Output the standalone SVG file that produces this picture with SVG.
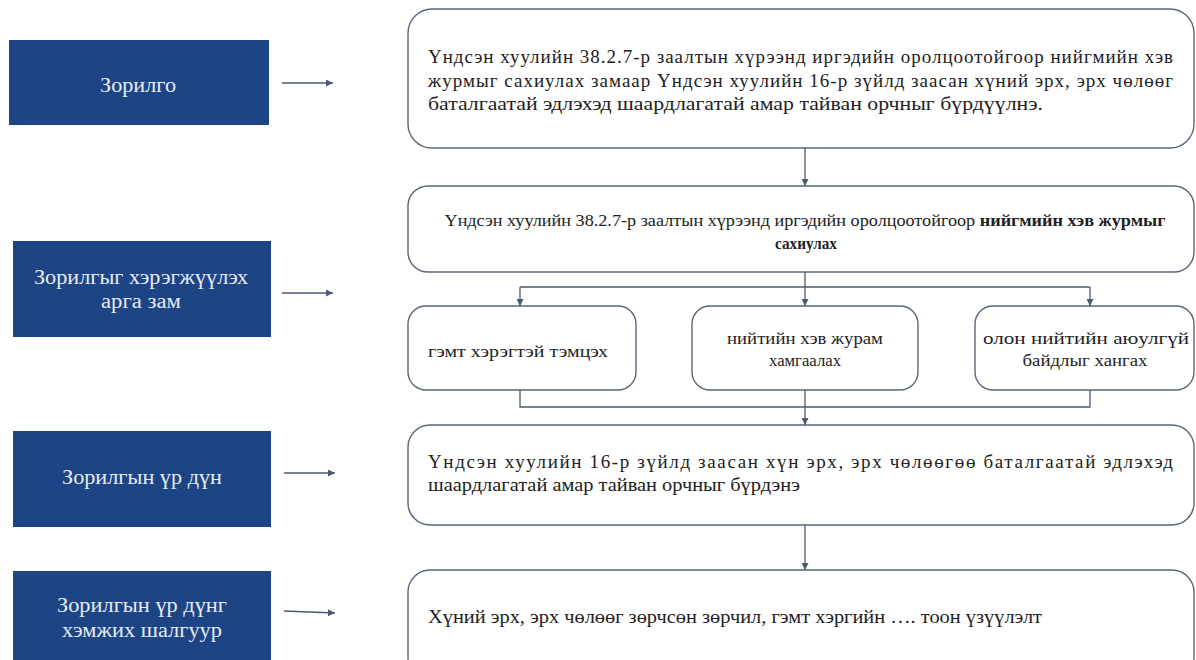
<svg xmlns="http://www.w3.org/2000/svg" width="1196" height="660" viewBox="0 0 1196 660">
<style>
text{font-family:"Liberation Serif","Times New Roman","DejaVu Serif",serif;}
.lb{fill:#1d4485;}
.lt{font-size:20px;fill:#e6ebf3;text-anchor:middle;}
.rb{fill:#ffffff;stroke:#5b6678;stroke-width:1.4;}
.rt{font-size:19px;fill:#222;}
.bt{font-size:17px;fill:#222;text-anchor:middle;}
.st{font-size:16px;fill:#222;text-anchor:middle;}
.cn{fill:none;stroke:#4d5a6e;stroke-width:1.3;}
</style>
<defs>
<marker id="ah" viewBox="0 0 10 10" refX="10" refY="5" markerWidth="7" markerHeight="7" markerUnits="userSpaceOnUse" orient="auto">
<path d="M0,0 L10,5 L0,10 z" fill="#4d5a6e"/>
</marker>
</defs>
<rect width="1196" height="660" fill="#ffffff"/>
<g id="left1"><rect class="lb" x="9" y="40" width="260" height="85"/><text class="lt" x="138" y="92" textLength="76" lengthAdjust="spacingAndGlyphs">Зорилго</text></g>
<g id="left2"><rect class="lb" x="13" y="241" width="258" height="96"/><text class="lt" x="141" y="284" textLength="214" lengthAdjust="spacingAndGlyphs">Зорилгыг хэрэгжүүлэх</text><text class="lt" x="141" y="308" textLength="80" lengthAdjust="spacingAndGlyphs">арга зам</text></g>
<g id="left3"><rect class="lb" x="13" y="431" width="258" height="96"/><text class="lt" x="142" y="484" textLength="160" lengthAdjust="spacingAndGlyphs">Зорилгын үр дүн</text></g>
<g id="left4"><rect class="lb" x="13" y="571" width="258" height="92"/><text class="lt" x="142" y="612" textLength="170" lengthAdjust="spacingAndGlyphs">Зорилгын үр дүнг</text><text class="lt" x="142" y="637" textLength="160" lengthAdjust="spacingAndGlyphs">хэмжих шалгуур</text></g>
<g id="boxA"><rect class="rb" x="408" y="9" width="786" height="139" rx="24"/>
<text class="rt" x="428" y="63" textLength="745" lengthAdjust="spacing">Үндсэн хуулийн 38.2.7-р заалтын хүрээнд иргэдийн оролцоотойгоор нийгмийн хэв</text>
<text class="rt" x="428" y="87" textLength="745" lengthAdjust="spacing">журмыг сахиулах замаар Үндсэн хуулийн 16-р зүйлд заасан хүний эрх, эрх чөлөөг</text>
<text class="rt" x="428" y="110" textLength="615" lengthAdjust="spacingAndGlyphs">баталгаатай эдлэхэд шаардлагатай амар тайван орчныг бүрдүүлнэ.</text></g>
<g id="boxB"><rect class="rb" x="408" y="186" width="786" height="86" rx="20"/>
<text class="bt" x="805" y="226" textLength="721" lengthAdjust="spacingAndGlyphs">Үндсэн хуулийн 38.2.7-р заалтын хүрээнд иргэдийн оролцоотойгоор <tspan font-weight="bold">нийгмийн хэв журмыг</tspan></text>
<text class="bt" x="806" y="249" font-weight="bold" textLength="62" lengthAdjust="spacingAndGlyphs">сахиулах</text></g>
<g id="boxC1"><rect class="rb" x="408" y="306" width="228" height="84" rx="18"/><text class="st" x="518" y="357" textLength="180" lengthAdjust="spacingAndGlyphs">гэмт хэрэгтэй тэмцэх</text></g>
<g id="boxC2"><rect class="rb" x="692" y="306" width="226" height="84" rx="18"/><text class="st" x="805" y="344" textLength="156" lengthAdjust="spacingAndGlyphs">нийтийн хэв журам</text><text class="st" x="805" y="366" textLength="72" lengthAdjust="spacingAndGlyphs">хамгаалах</text></g>
<g id="boxC3"><rect class="rb" x="975" y="306" width="219" height="84" rx="18"/><text class="st" x="1086" y="344" textLength="206" lengthAdjust="spacingAndGlyphs">олон нийтийн аюулгүй</text><text class="st" x="1085" y="366" textLength="125" lengthAdjust="spacingAndGlyphs">байдлыг хангах</text></g>
<g id="boxD"><rect class="rb" x="408" y="425" width="786" height="100" rx="22"/>
<text class="rt" x="428" y="468" textLength="745" lengthAdjust="spacing">Үндсэн хуулийн 16-р зүйлд заасан хүн эрх, эрх чөлөөгөө баталгаатай эдлэхэд</text>
<text class="rt" x="428" y="491" textLength="372" lengthAdjust="spacingAndGlyphs">шаардлагатай амар тайван орчныг бүрдэнэ</text></g>
<g id="boxE"><rect class="rb" x="408" y="570" width="786" height="110" rx="22"/>
<text class="rt" x="428" y="623" textLength="614" lengthAdjust="spacingAndGlyphs">Хүний эрх, эрх чөлөөг зөрчсөн зөрчил, гэмт хэргийн …. тоон үзүүлэлт</text></g>
<g id="connectors">
<path class="cn" d="M282,83 H333" marker-end="url(#ah)"/>
<path class="cn" d="M282,293 H333" marker-end="url(#ah)"/>
<path class="cn" d="M284,473 H335" marker-end="url(#ah)"/>
<path class="cn" d="M284,611 L335,613" marker-end="url(#ah)"/>
<path class="cn" d="M805,148 V186" marker-end="url(#ah)"/>
<path class="cn" d="M805,272 V306" marker-end="url(#ah)"/>
<path class="cn" d="M520,287 H1090"/>
<path class="cn" d="M520,287 V306" marker-end="url(#ah)"/>
<path class="cn" d="M1090,287 V306" marker-end="url(#ah)"/>
<path class="cn" d="M520,390 V407 H1090 V390"/>
<path class="cn" d="M805,390 V425" marker-end="url(#ah)"/>
<path class="cn" d="M805,525 V570" marker-end="url(#ah)"/>
</g>
</svg>
